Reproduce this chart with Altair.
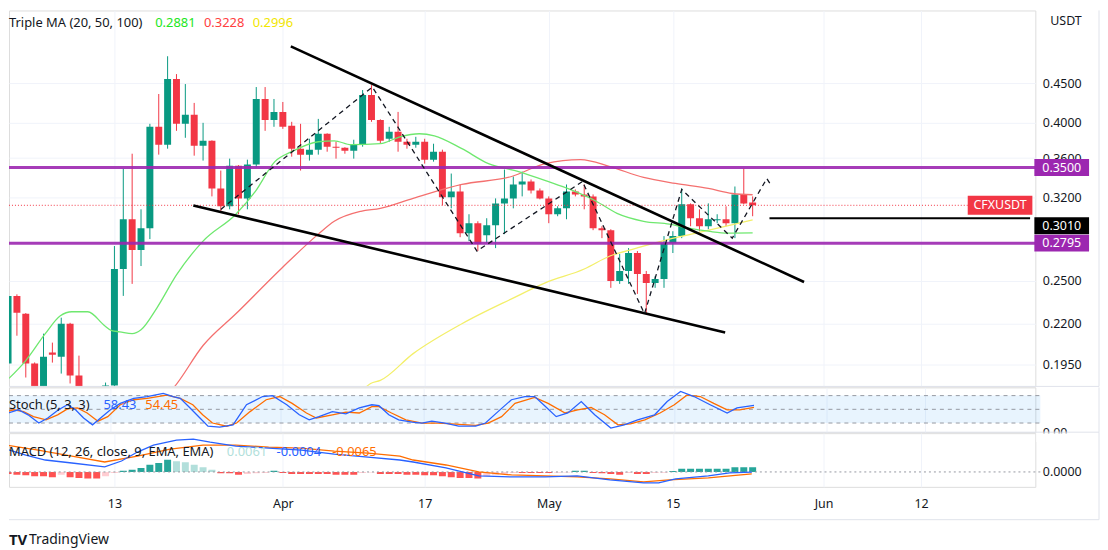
import altair as alt
import pandas as pd

FONT = "Noto Sans"
TXT = "#131722"
GRID = "#f0f3fa"
SEP = "#e0e3eb"
UP = "#089981"
DOWN = "#f23645"

# ---------------- daily candles, day 0 = 1 Mar 2023 ----------------
day = list(range(85))
open_ = [0.1954, 0.2389, 0.2265, 0.1954, 0.1790, 0.2018, 0.1994, 0.2199, 0.1885, 0.1760,
         0.1660, 0.1720, 0.1830, 0.2588, 0.3001, 0.2738, 0.2922, 0.3951, 0.3746, 0.4554,
         0.3986, 0.4094, 0.3735, 0.3790, 0.3289, 0.3119, 0.3520, 0.3193, 0.3531, 0.4292,
         0.4033, 0.4130, 0.3962, 0.3702, 0.3637, 0.3691, 0.3870, 0.3724, 0.3713, 0.3680,
         0.3746, 0.4343, 0.4033, 0.3813, 0.3893, 0.3779, 0.3746, 0.3779, 0.3583, 0.3669,
         0.3203, 0.3260, 0.2879, 0.2966, 0.2862, 0.2948, 0.3146, 0.3193, 0.3328, 0.3358,
         0.3270, 0.3193, 0.3046, 0.3100, 0.3260, 0.3231, 0.3212, 0.2922, 0.2905, 0.2498,
         0.2573, 0.2714, 0.2550, 0.2483, 0.2513, 0.2795, 0.2854, 0.3137, 0.3010, 0.2939,
         0.2992, 0.3001, 0.2966, 0.3231, 0.3155]
high = [0.2573, 0.2400, 0.2270, 0.1960, 0.2135, 0.2079, 0.2239, 0.2205, 0.2000, 0.1790,
        0.1760, 0.1846, 0.2771, 0.3489, 0.3647, 0.3091, 0.3986, 0.4356, 0.4874, 0.4622,
        0.4487, 0.4242, 0.3998, 0.3795, 0.3469, 0.3594, 0.3525, 0.3583, 0.4447, 0.4447,
        0.4292, 0.4254, 0.4010, 0.3986, 0.3813, 0.4045, 0.3875, 0.3779, 0.3718, 0.3802,
        0.4408, 0.4473, 0.4040, 0.3951, 0.4130, 0.3813, 0.3835, 0.3813, 0.3757, 0.3691,
        0.3438, 0.3328, 0.3046, 0.2983, 0.3010, 0.3193, 0.3479, 0.3408, 0.3458, 0.3378,
        0.3289, 0.3212, 0.3119, 0.3328, 0.3279, 0.3328, 0.3231, 0.2939, 0.2913, 0.2706,
        0.2754, 0.2730, 0.2573, 0.2535, 0.2854, 0.2896, 0.3289, 0.3146, 0.3091, 0.3146,
        0.3046, 0.3119, 0.3308, 0.3489, 0.3212]
low = [0.1925, 0.2122, 0.1874, 0.1740, 0.1760, 0.1959, 0.1896, 0.1841, 0.1700, 0.1600,
       0.1600, 0.1680, 0.1800, 0.2389, 0.2476, 0.2611, 0.2829, 0.3637, 0.3702, 0.3904,
       0.3824, 0.3626, 0.3573, 0.3212, 0.3073, 0.3091, 0.3046, 0.3091, 0.3500, 0.3904,
       0.3951, 0.3927, 0.3615, 0.3469, 0.3573, 0.3637, 0.3669, 0.3594, 0.3647, 0.3594,
       0.3724, 0.4010, 0.3757, 0.3779, 0.3669, 0.3702, 0.3713, 0.3541, 0.3562, 0.3128,
       0.3100, 0.2845, 0.2812, 0.2730, 0.2795, 0.2754, 0.2871, 0.3100, 0.3212, 0.3240,
       0.3184, 0.2966, 0.3028, 0.3001, 0.3212, 0.3091, 0.2905, 0.2837, 0.2447, 0.2476,
       0.2476, 0.2403, 0.2265, 0.2447, 0.2447, 0.2714, 0.2837, 0.2939, 0.2896, 0.2913,
       0.2966, 0.2939, 0.2837, 0.3137, 0.3028]
close = [0.2389, 0.2272, 0.1954, 0.1780, 0.1994, 0.2006, 0.2199, 0.1885, 0.1760, 0.1660,
         0.1720, 0.1830, 0.2588, 0.3001, 0.2738, 0.2922, 0.3951, 0.3746, 0.4554, 0.3986,
         0.4094, 0.3735, 0.3790, 0.3289, 0.3119, 0.3520, 0.3193, 0.3531, 0.4292, 0.4033,
         0.4130, 0.3951, 0.3702, 0.3637, 0.3691, 0.3870, 0.3724, 0.3713, 0.3680, 0.3746,
         0.4343, 0.4033, 0.3790, 0.3893, 0.3779, 0.3746, 0.3779, 0.3583, 0.3669, 0.3203,
         0.3260, 0.2879, 0.2966, 0.2787, 0.2948, 0.3146, 0.3193, 0.3328, 0.3358, 0.3270,
         0.3193, 0.3046, 0.3100, 0.3260, 0.3231, 0.3212, 0.2922, 0.2905, 0.2498, 0.2573,
         0.2714, 0.2550, 0.2483, 0.2513, 0.2795, 0.2854, 0.3137, 0.3010, 0.2939, 0.3001,
         0.3001, 0.2966, 0.3231, 0.3146, 0.3128]

# ---------------- Triple MA ----------------
ma20_day = [0.1, 2, 4.2, 5.9, 7.2, 9, 10.9, 11.7, 12.6, 14, 15, 16.8, 19, 22, 25.7, 27.9, 30.1,
            32, 35, 36.8, 38.7, 42, 44.2, 46.4, 48.1, 51.2, 54.2, 57.6, 60.9, 63.4, 66.4, 68.7,
            71.7, 74.6, 76.8, 79, 81.2, 84]
ma20 = [0.1869, 0.1971, 0.2135, 0.2252, 0.2279, 0.2279, 0.2186, 0.2154, 0.2147, 0.2135, 0.2160,
        0.2306, 0.2543, 0.2812, 0.3046, 0.3260, 0.3562, 0.3669, 0.3779, 0.3790, 0.3746, 0.3757,
        0.3835, 0.3870, 0.3847, 0.3702, 0.3541, 0.3458, 0.3358, 0.3279, 0.3164, 0.3054, 0.2983,
        0.2957, 0.2922, 0.2896, 0.2879, 0.2881]
ma50_day = [17.5, 18.7, 22, 25.7, 30.9, 35, 36.8, 39.8, 42, 45.7, 51.2, 56.8, 60.6, 64.6, 67.9,
            71.7, 75.3, 79, 81.7, 84]
ma50 = [0.176, 0.1819, 0.2061, 0.2265, 0.2596, 0.2871, 0.2983, 0.3073, 0.3100, 0.3193, 0.3328,
        0.3408, 0.3541, 0.3583, 0.3510, 0.3398, 0.3338, 0.3289, 0.3240, 0.3228]
ma100_day = [39.5, 40.9, 42, 45.7, 51.2, 56.8, 60.6, 65, 67.9, 70.9, 74.6, 77.6, 80.9, 84]
ma100 = [0.178, 0.1841, 0.1858, 0.2012, 0.2199, 0.2368, 0.2483, 0.2588, 0.2690, 0.2754, 0.2829,
         0.2879, 0.2939, 0.2996]

# ---------------- drawings ----------------
levels = [0.3500, 0.2795]
upper_day = [31.9, 89.8]
upper_px = [0.502, 0.249]
lower_day = [20.9, 80.9]
lower_px = [0.3127, 0.2142]
zig_day = [24.0, 41.1, 52.9, 64.8, 71.8, 76.0, 81.7, 85.6, 86.1]
zig_px = [0.309, 0.4447, 0.273, 0.3357, 0.2265, 0.3279, 0.2837, 0.3387, 0.3318]
brk_day = [85.9, 115.3]
brk_px = 0.3010
last_px = 0.3128

# ---------------- Stoch (5,3,3) ----------------
k_day = [-0.2, 0.6, 1.7, 2.8, 4.0, 5.0, 6.2, 7.2, 8.1, 9.0, 10.0, 10.9, 12.0, 13.1, 14.6, 16.1,
         17.9, 19.0, 19.8, 20.9, 22.0, 22.9, 24.2, 25.7, 27.2, 29.0, 30.1, 31.7, 33.1, 34.2,
         35.3, 36.8, 38.3, 39.8, 41.2, 42.0, 43.1, 44.2, 45.7, 46.8, 47.9, 49.4, 50.9, 52.8,
         53.9, 55.3, 56.8, 58.3, 59.4, 60.6, 61.8, 63.1, 64.6, 66.1, 67.9, 69.4, 70.9, 72.8,
         74.2, 75.7, 77.2, 79.0, 80.9, 82.0, 83.9]
k_val = [31, 42, 49, 38, 20, 31, 49, 60, 49, 31, 16, 31, 49, 63, 74, 78, 85, 78, 74, 53,
         31, 13, 11, 16, 60, 78, 80, 60, 38, 27, 34, 45, 40, 53, 60, 58, 38, 27, 22, 20,
         24, 20, 13, 13, 20, 45, 71, 78, 78, 56, 34, 42, 67, 38, 9, 16, 27, 38, 67, 89,
         78, 60, 42, 53, 58.43]
d_day = [-0.2, 1.2, 2.3, 3.4, 4.8, 6.1, 7.2, 8.3, 9.4, 10.6, 11.7, 13.1, 14.6, 16.1, 18.3, 19.8,
         21.2, 22.3, 23.4, 25, 26.1, 27.6, 29.4, 30.9, 32.3, 33.9, 35, 36.8, 38.3, 39.8, 41.2,
         42, 43.4, 45, 46.8, 48.7, 50.1, 52.8, 54.2, 55.7, 57.2, 59.4, 60.9, 62.8, 64.2, 65.7,
         67.2, 68.7, 70.1, 71.7, 73.4, 75, 76.4, 77.9, 79.4, 80.9, 82.3, 83.9]
d_val = [42, 49, 45, 34, 27, 38, 51, 53, 42, 24, 34, 60, 71, 74, 81, 74, 60, 38, 20, 13,
         20, 45, 71, 78, 63, 42, 31, 38, 44, 42, 56, 56, 42, 27, 20, 20, 18, 15, 20, 34,
         63, 76, 63, 42, 49, 54, 38, 16, 18, 27, 42, 60, 81, 78, 63, 49, 49, 54.45]

# ---------------- MACD (12,26,close,9) ----------------
macd_day = [-0.2, 2, 4.2, 7.2, 10.9, 12.8, 14.6, 16.4, 19, 20.9, 22.8, 25.7, 29.4, 33.1, 36.8,
            40.6, 44.2, 45.7, 49.4, 53.1, 56.8, 60.6, 64.2, 67.9, 71.7, 73.4, 75.3, 79, 81.4, 83.9]
macd_val = [0.0767, 0.0567, 0.04, 0.03, 0.0167, 0.0367, 0.0667, 0.09, 0.1067, 0.11, 0.1, 0.0867,
            0.08, 0.0733, 0.06, 0.05, 0.04, 0.0333, 0.0133, -0.0133, -0.0167, -0.0167, -0.0133,
            -0.0267, -0.0367, -0.0367, -0.0233, -0.0133, -0.0033, -0.0004]
sig_day = [-0.2, 3.4, 7.2, 10.9, 14.6, 18.3, 22, 25.7, 29.4, 33.1, 36.8, 40.6, 44.2, 45.7, 49.4,
           53.1, 56.8, 60.6, 64.2, 67.9, 71.7, 74.6, 79, 83.9]
sig_val = [0.09, 0.0733, 0.0533, 0.0333, 0.0533, 0.0767, 0.09, 0.09, 0.0833, 0.08, 0.07, 0.0633,
           0.0533, 0.04, 0.0233, 0.0, -0.01, -0.0133, -0.0167, -0.0233, -0.0333, -0.0267, -0.02,
           -0.0065]
hist_val = [-0.0067, -0.009, -0.011, -0.0143, -0.0143, -0.0177, -0.009, -0.0177, -0.02, -0.0223,
            -0.0223, -0.0143, -0.0033, 0.0043, 0.0077, 0.0133, 0.0243, 0.03, 0.041, 0.0357,
            0.0323, 0.0243, 0.0157, 0.0077, -0.0043, -0.0043, -0.009, -0.0067, -0.0043, -0.0033,
            0.0043, -0.0033, -0.0067, -0.0067, -0.0067, -0.0067, -0.0067, -0.009, -0.009, -0.009,
            -0.0033, -0.0017, -0.0067, -0.0067, -0.0067, -0.009, -0.009, -0.011, -0.011, -0.0143,
            -0.0177, -0.02, -0.02, -0.0223, -0.0143, -0.009, -0.0067, -0.0033, -0.0033, -0.0033,
            -0.0033, -0.0033, -0.0023, -0.0017, 0.0043, 0.0043, -0.0033, -0.0043, -0.0067, -0.009,
            -0.0033, -0.0067, -0.0067, -0.0033, -0.0023, 0.0033, 0.011, 0.011, 0.011, 0.011,
            0.011, 0.011, 0.0157, 0.0157, 0.0157]

# ---------------- axes ----------------
grid_days = [12, 31, 47, 61, 75, 92, 103]
grid_names = ["13", "Apr", "17", "May", "15", "Jun", "12"]
price_ticks = [0.195, 0.22, 0.25, 0.28, 0.32, 0.36, 0.40, 0.45]

W = 1032          # plot width
RIGHT = 1096      # right frame edge (inside the svg)
H1, H2, H3 = 378, 45, 54

xscale = alt.Scale(domain=[0.667, 115.333], nice=False, zero=False)
label_expr = " : ".join(f"datum.value == {d} ? '{n}'" for d, n in zip(grid_days, grid_names)) + " : ''"
xaxis_hidden = alt.Axis(values=grid_days, labels=False, ticks=False, domain=False, grid=True,
                        gridColor=GRID, title=None)
xaxis_bottom = alt.Axis(values=grid_days, labelExpr=label_expr, ticks=False, domain=False, grid=True,
                        gridColor=GRID, title=None, labelPadding=11, labelFontSize=12.5,
                        labelColor=TXT, labelFont=FONT)

yscale = alt.Scale(type="log", domain=[0.1825, 0.5585], nice=False, zero=False)
yaxis_main = alt.Axis(orient="right", values=price_ticks, format=".4f", grid=True, gridColor=GRID,
                      ticks=False, domain=False, labelPadding=7, title=None, labelFontSize=12.5,
                      labelColor=TXT, labelFont=FONT)
sscale = alt.Scale(domain=[0, 98], nice=False, zero=False)
saxis = alt.Axis(orient="right", values=[0], format=".2f", grid=False, ticks=False, domain=False,
                 labelPadding=7, title=None, labelFontSize=12.5, labelColor=TXT, labelFont=FONT)
mscale = alt.Scale(domain=[-0.05, 0.13], nice=False, zero=False)
maxis = alt.Axis(orient="right", values=[0], format=".4f", grid=False, ticks=False, domain=False,
                 labelPadding=7, title=None, labelFontSize=12.5, labelColor=TXT, labelFont=FONT)


def X(f, bottom=False):
    return alt.X(f, type="quantitative", scale=xscale, axis=xaxis_bottom if bottom else xaxis_hidden)


def Y(f):
    return alt.Y(f, type="quantitative", scale=yscale, axis=yaxis_main)


def YS(f):
    return alt.Y(f, type="quantitative", scale=sscale, axis=saxis)


def YM(f):
    return alt.Y(f, type="quantitative", scale=mscale, axis=maxis)


def label(txt, x, y, color, size=13, align="left", weight="normal"):
    return alt.Chart(pd.DataFrame({"t": [txt]})).mark_text(
        align=align, baseline="middle", color=color, fontSize=size, fontWeight=weight, font=FONT
    ).encode(x=alt.value(x), y=alt.value(y), text="t:N")


def frame(x0, x1, y0, y1, color=SEP):
    return alt.Chart(pd.DataFrame({"a": [0]})).mark_rule(color=color, strokeWidth=1).encode(
        x=alt.value(x0), x2=alt.value(x1), y=alt.value(y0), y2=alt.value(y1))


def price_box(price, txt, fill, x0, x1, dy=0, h=17):
    df = pd.DataFrame({"p": [price], "t": [txt]})
    rect = alt.Chart(df).mark_rect(color=fill, yOffset=dy - h / 2, y2Offset=dy + h / 2).encode(
        x=alt.value(x0), x2=alt.value(x1), y=Y("p"), y2="p")
    text = alt.Chart(df).mark_text(color="white", fontSize=12.5, font=FONT, dy=dy, baseline="middle").encode(
        x=alt.value((x0 + x1) / 2), y=Y("p"), text="t:N")
    return [rect, text]


# ---------------- main pane ----------------
cdf = pd.DataFrame({"day": day, "o": open_, "h": high, "l": low, "c": close})
cdf["col"] = [UP if c >= o else DOWN for o, c in zip(open_, close)]

wicks = alt.Chart(cdf).mark_rule(strokeWidth=1, clip=True).encode(
    x=X("day"), y=Y("l"), y2="h", color=alt.Color("col:N", scale=None))
bodies = alt.Chart(cdf).mark_bar(size=7, clip=True).encode(
    x=X("day"), y=Y("o"), y2="c", color=alt.Color("col:N", scale=None))


def ma_line(xs, ys, color):
    return alt.Chart(pd.DataFrame({"d": xs, "p": ys})).mark_line(
        color=color, strokeWidth=1.3, clip=True, interpolate="monotone").encode(x=X("d"), y=Y("p"))


ma_layers = [ma_line(ma100_day, ma100, "#f3ef6a"), ma_line(ma50_day, ma50, "#f4706f"),
             ma_line(ma20_day, ma20, "#6fe86f")]

purple = alt.Chart(pd.DataFrame({"p": levels})).mark_rule(
    color="#9c27b0", strokeWidth=3, opacity=0.9, clip=True).encode(y=Y("p"))

tl_df = pd.DataFrame({"d": upper_day + lower_day, "p": upper_px + lower_px,
                      "g": ["u", "u", "l", "l"]})
trend = alt.Chart(tl_df).mark_line(color="#000000", strokeWidth=2.6, clip=True).encode(
    x=X("d"), y=Y("p"), detail="g:N")

zig = alt.Chart(pd.DataFrame({"d": zig_day, "p": zig_px})).mark_line(
    color="#131722", strokeWidth=1.3, strokeDash=[5, 4], clip=True).encode(x=X("d"), y=Y("p"))

brk = alt.Chart(pd.DataFrame({"d": brk_day, "p": [brk_px, brk_px]})).mark_line(
    color="#000000", strokeWidth=2, clip=True).encode(x=X("d"), y=Y("p"))

lastline = alt.Chart(pd.DataFrame({"p": [last_px]})).mark_rule(
    color=DOWN, strokeDash=[1, 2], strokeWidth=1).encode(y=Y("p"), x=alt.value(0), x2=alt.value(964))

boxes = (price_box(0.3500, "0.3500", "#9c27b0", 1031, 1086)
         + price_box(brk_px, "0.3010", "#000000", 1031, 1086, dy=7.5)
         + price_box(0.2795, "0.2795", "#9c27b0", 1031, 1086)
         + price_box(last_px, "CFXUSDT", DOWN, 964, 1029, h=19))

main_legend = [
    label("Triple MA (20, 50, 100)", 0, 13, TXT),
    label("0.2881", 147, 13, "#22e622"),
    label("0.3228", 196, 13, "#ff4040"),
    label("0.2996", 245, 13, "#f2e600"),
    label("USDT", 1047, 11, TXT, size=12.5),
]

main = alt.layer(
    wicks, bodies, *ma_layers, purple, lastline, trend, zig, brk, *boxes, *main_legend,
    frame(0, RIGHT, H1, H1), frame(RIGHT, RIGHT, 0, H1)
).properties(width=W, height=H1)

# ---------------- stochastic pane ----------------
band = alt.Chart(pd.DataFrame({"lo": [20], "hi": [80]})).mark_rect(
    color="#2196f3", opacity=0.1).encode(x=alt.value(0), x2=alt.value(W + 5), y=YS("lo"), y2="hi")
slev = alt.Chart(pd.DataFrame({"v": [20, 50, 80]})).mark_rule(
    color="#9598a1", strokeDash=[4, 4], strokeWidth=1).encode(y=YS("v"), x=alt.value(0), x2=alt.value(W + 5))
kline = alt.Chart(pd.DataFrame({"d": k_day, "v": k_val})).mark_line(
    color="#2962ff", strokeWidth=1.3, clip=True).encode(x=X("d"), y=YS("v"))
dline = alt.Chart(pd.DataFrame({"d": d_day, "v": d_val})).mark_line(
    color="#ff6d00", strokeWidth=1.3, clip=True).encode(x=X("d"), y=YS("v"))
stoch = alt.layer(
    band, slev, dline, kline,
    label("Stoch (5, 3, 3)", 0, 18, TXT),
    label("58.43", 95, 18, "#2962ff"),
    label("54.45", 137, 18, "#ff6d00"),
    frame(RIGHT, RIGHT, 0, H2),
).properties(width=W, height=H2)

# ---------------- MACD pane ----------------
hdf = pd.DataFrame({"day": day, "v": hist_val, "base": [0.0] * len(day)})
cols = []
for i, v in enumerate(hist_val):
    prev = hist_val[i - 1] if i > 0 else v
    if v >= 0:
        cols.append("#26a69a" if v >= prev else "#b2dfdb")
    else:
        cols.append("#ff5252" if v <= prev else "#ffcdd2")
hdf["col"] = cols

hist = alt.Chart(hdf).mark_bar(size=7, clip=True).encode(
    x=X("day", True), y=YM("v"), y2="base", color=alt.Color("col:N", scale=None))
zero = alt.Chart(pd.DataFrame({"z": [0.0]})).mark_rule(
    color="#9598a1", strokeDash=[2, 3], strokeWidth=1).encode(y=YM("z"), x=alt.value(0), x2=alt.value(W + 5))
mline = alt.Chart(pd.DataFrame({"d": macd_day, "v": macd_val})).mark_line(
    color="#2962ff", strokeWidth=1.3, clip=True).encode(x=X("d", True), y=YM("v"))
sline = alt.Chart(pd.DataFrame({"d": sig_day, "v": sig_val})).mark_line(
    color="#ff6d00", strokeWidth=1.3, clip=True).encode(x=X("d", True), y=YM("v"))
cover = alt.Chart(pd.DataFrame({"a": [0]})).mark_rect(color="white").encode(
    x=alt.value(W + 1), x2=alt.value(RIGHT - 1), y=alt.value(0), y2=alt.value(9))
macd = alt.layer(
    hist, zero, sline, mline, cover,
    frame(0, RIGHT, -1, -1), frame(RIGHT, RIGHT, -1, 87), frame(0, RIGHT, 87, 87),
    label("MACD (12, 26, close, 9, EMA, EMA)", 0, 19, TXT),
    label("0.0061", 219, 19, "#b2dfdb"),
    label("-0.0004", 269, 19, "#2962ff"),
    label("-0.0065", 325, 19, "#ff6d00"),
    label("TV", 0, 107, TXT, size=15, weight="bold"),
    label("TradingView", 20, 107, TXT, size=14),
).properties(width=W, height=H3)

chart = alt.vconcat(main, stoch, macd, spacing=1, bounds="flush").resolve_scale(
    x="independent", y="independent"
).properties(padding=0, background="white").configure_view(
    stroke=None
).configure(font=FONT)

chart.save("out.html", embed_options={"renderer": "svg", "actions": False})
